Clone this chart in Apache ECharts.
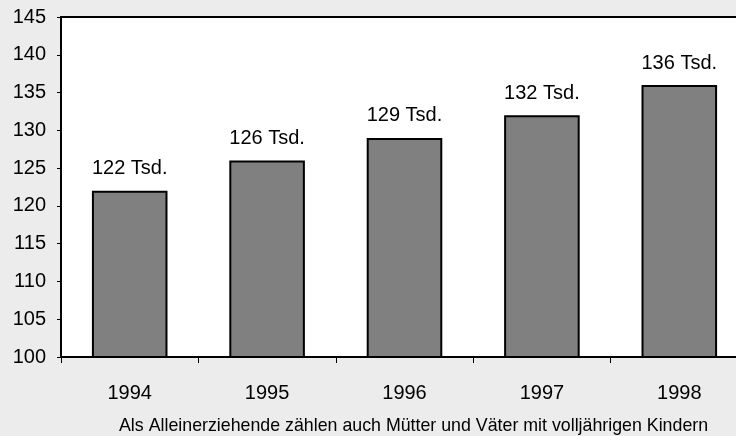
<!DOCTYPE html>
<html>
<head>
<meta charset="utf-8">
<script src="https://cdn.jsdelivr.net/npm/echarts@6/dist/echarts.min.js"></script>
<style>
  html, body { margin: 0; padding: 0; background: #ececec; overflow: hidden; }
  /* Zeichenfläche etwas breiter als das Fenster: rechter Rahmen liegt außerhalb */
  #chart { width: 748px; height: 436px; }
</style>
</head>
<body>
<div id="chart"></div>
<script>
// Daten
const years = ['1994', '1995', '1996', '1997', '1998'];
const values = [122, 126, 129, 132, 136];
const footnote = 'Als Alleinerziehende zählen auch Mütter und Väter mit volljährigen Kindern';

const chart = echarts.init(document.getElementById('chart'));
const font = '"Liberation Sans", Arial, sans-serif';

chart.setOption({
  backgroundColor: '#ececec',
  animation: false,
  grid: {
    left: 61,
    right: 0,
    top: 17,
    bottom: 79,
    show: true,
    backgroundColor: '#ffffff',
    borderColor: '#000000',
    borderWidth: 2
  },
  graphic: [{
    type: 'text',
    left: 119,
    top: 417,
    style: {
      text: footnote,
      fontFamily: font,
      fontSize: 17.8,
      fill: '#000000'
    }
  }],
  xAxis: {
    type: 'category',
    data: years,
    axisLine: { show: true, lineStyle: { color: '#000000', width: 2 } },
    axisTick: { show: true, length: 6, lineStyle: { color: '#000000', width: 1 } },
    axisLabel: { color: '#000000', fontFamily: font, fontSize: 20, margin: 26 }
  },
  yAxis: {
    type: 'value',
    min: 100,
    max: 145,
    interval: 5,
    splitLine: { show: false },
    axisLine: { show: true, lineStyle: { color: '#000000', width: 2 } },
    axisTick: { show: true, length: 4, lineStyle: { color: '#000000', width: 1 } },
    axisLabel: { color: '#000000', fontFamily: font, fontSize: 20, margin: 15 }
  },
  series: [{
    type: 'bar',
    data: values,
    barWidth: '55%',
    itemStyle: { color: '#808080', borderColor: '#000000', borderWidth: 2 },
    label: {
      show: true,
      position: 'top',
      distance: 12,
      formatter: p => p.value + ' Tsd.',
      color: '#000000',
      fontFamily: font,
      fontSize: 20
    }
  }]
});
</script>
</body>
</html>
